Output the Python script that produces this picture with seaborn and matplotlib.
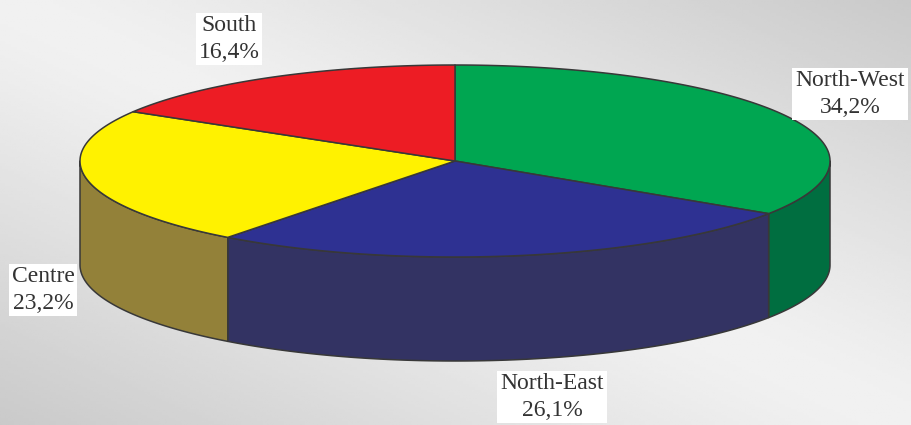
import numpy as np
import matplotlib.pyplot as plt
from matplotlib.patches import Polygon
import seaborn as sns

# data
regions = ["North-West", "North-East", "Centre", "South"]
shares = [34.2, 26.1, 23.2, 16.4]

# styles
top_colors = sns.color_palette(["#00A651", "#2E3192", "#FFF200", "#ED1C24"])
side_colors = sns.color_palette(["#006E40", "#333363", "#938139", "#9E1218"])
label_xy = [(850, 94), (552, 397), (43, 290), (229, 39)]

sns.set_theme(style="white")
plt.rcParams["font.family"] = ["Liberation Serif", "DejaVu Serif"]

W, H = 911, 425
fig = plt.figure(figsize=(W / 100, H / 100), dpi=100)

# grey diagonal gradient background
ax_bg = fig.add_axes([0, 0, 1, 1], zorder=0)
u, v = np.meshgrid(np.linspace(0, 1, 300), np.linspace(0, 1, 150))
d = np.sqrt((u - v) ** 2 + 0.015)
ax_bg.imshow(246 - 44 * d, cmap="gray", vmin=0, vmax=255, aspect="auto")
ax_bg.axis("off")

ax = fig.add_axes([0, 0, 1, 1], zorder=1)
ax.patch.set_alpha(0)
ax.set_xlim(0, W)
ax.set_ylim(H, 0)
ax.axis("off")

# pie geometry (pixels)
cx, cy, rx, ry, depth = 455, 161, 375, 96, 104
edge = dict(edgecolor="#383838", linewidth=1.1, joinstyle="round")


def arc(t0, t1, dy=0, n=200):
    th = np.radians(np.linspace(t0, t1, n))
    return np.column_stack([cx + rx * np.cos(th), cy - ry * np.sin(th) + dy])


angles = 90 - np.concatenate([[0], np.cumsum(shares)]) / sum(shares) * 360

# side walls (front half only)
for i in range(len(shares)):
    hi, lo = min(angles[i], 0), max(angles[i + 1], -180)
    if hi > lo:
        pts = np.vstack([arc(hi, lo), arc(lo, hi, dy=depth)])
        ax.add_patch(Polygon(pts, closed=True, facecolor=side_colors[i], **edge))

# top faces
for i in range(len(shares)):
    pts = np.vstack([[cx, cy], arc(angles[i], angles[i + 1])])
    ax.add_patch(Polygon(pts, closed=True, facecolor=top_colors[i], **edge))

# labels
for name, s, (x, y) in zip(regions, shares, label_xy):
    txt = f"{name}\n{s:.1f}".replace(".", ",") + "%"
    ax.text(x, y, txt, ha="center", va="center", ma="center", fontsize=17,
            color="#333333", linespacing=1.32,
            bbox=dict(boxstyle="square,pad=0.12", facecolor="white", edgecolor="none"))

fig.savefig("out.png", dpi=100)
